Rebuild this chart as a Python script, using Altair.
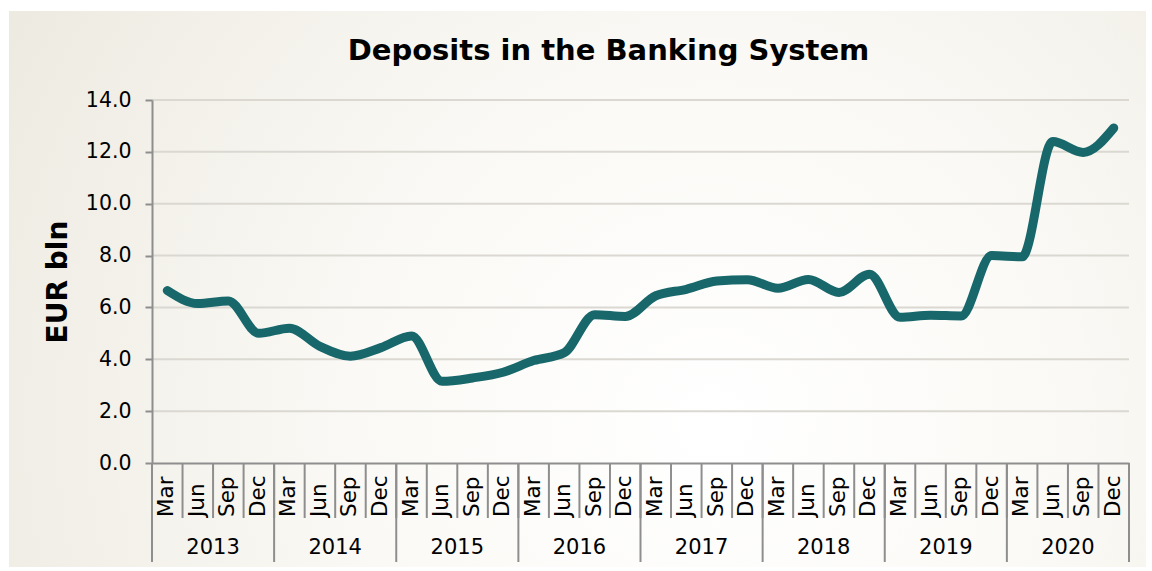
import altair as alt
import pandas as pd

# ---- data ----
months = ["Mar", "Jun", "Sep", "Dec"]
years = ["2013", "2014", "2015", "2016", "2017", "2018", "2019", "2020"]
deposits = [
    6.65, 6.15, 6.25, 5.00,
    5.20, 4.50, 4.12, 4.45,
    4.90, 3.15, 3.28, 3.50,
    3.95, 4.25, 5.72, 5.65,
    6.45, 6.70, 7.02, 7.07,
    6.74, 7.08, 6.58, 7.28,
    5.62, 5.70, 5.67, 8.00,
    7.95, 12.40, 11.98, 12.92,
]
y_ticks = [0, 2, 4, 6, 8, 10, 12, 14]

W, H = 977, 363
n = len(deposits)

series = pd.DataFrame({
    "pos": [i + 0.5 for i in range(n)],
    "month": [months[i % 4] for i in range(n)],
    "year": [years[i // 4] for i in range(n)],
    "value": deposits,
})
year_df = pd.DataFrame({"pos": [4 * k + 2 for k in range(len(years))], "year": years})
sep_df = pd.DataFrame({"pos": list(range(n + 1))})
ysep_df = pd.DataFrame({"pos": [4 * k for k in range(len(years) + 1)]})
grid_df = pd.DataFrame({"v": y_ticks})

FONT = "DejaVu Sans"
GRAY = "#8E8E8E"

xscale = alt.Scale(domain=[0, n], nice=False, zero=False)
yscale = alt.Scale(domain=[0, 14], nice=False)

x_axis = alt.Axis(labels=False, ticks=False, grid=False, title=None,
                  domainColor=GRAY, domainWidth=2, zindex=1)
y_axis = alt.Axis(values=y_ticks, format=".1f", grid=False, title="EUR bln",
                  labelFont=FONT, labelFontSize=20.5, labelColor="#000000",
                  labelPadding=14, tickSize=7, tickColor=GRAY, tickWidth=2,
                  domainColor=GRAY, domainWidth=2,
                  titleFont=FONT, titleFontSize=28, titleFontWeight="bold",
                  titleColor="#000000", titlePadding=13, zindex=1)

# background panel with radial gradient
bg = alt.Chart(pd.DataFrame({"a": [0]})).mark_rect(
    fill=alt.Gradient(
        gradient="radial",
        stops=[
            alt.GradientStop(color="#FFFFFF", offset=0),
            alt.GradientStop(color="#FAF9F5", offset=0.4),
            alt.GradientStop(color="#EAE7DC", offset=1),
        ],
        x1=0.62, y1=0.62, r1=0.0, x2=0.62, y2=0.62, r2=0.8,
    )
).encode(
    x=alt.value(-143), x2=alt.value(W + 17),
    y=alt.value(-89), y2=alt.value(H + 104),
)

line = alt.Chart(series).mark_line(
    color="#17676B", strokeWidth=9, interpolate="monotone", strokeCap="round", strokeJoin="round"
).encode(
    x=alt.X("pos:Q", scale=xscale, axis=x_axis),
    y=alt.Y("value:Q", scale=yscale, axis=y_axis),
)

grid = alt.Chart(grid_df).transform_filter("datum.v > 0").mark_rule(
    color="#DAD8D1", strokeWidth=2
).encode(
    y=alt.Y("v:Q", scale=yscale, axis=y_axis),
    x=alt.value(0), x2=alt.value(W),
)

seps = alt.Chart(sep_df).mark_rule(color=GRAY, strokeWidth=2).encode(
    x=alt.X("pos:Q", scale=xscale, axis=x_axis),
    y=alt.value(H), y2=alt.value(H + 55),
)
ysep = alt.Chart(ysep_df).mark_rule(color=GRAY, strokeWidth=2).encode(
    x=alt.X("pos:Q", scale=xscale, axis=x_axis),
    y=alt.value(H), y2=alt.value(H + 99),
)

mlabels = alt.Chart(series).mark_text(
    angle=270, align="left", baseline="middle", font=FONT, fontSize=21.5, color="#000000"
).encode(
    x=alt.X("pos:Q", scale=xscale, axis=x_axis),
    y=alt.value(H + 54),
    text="month:N",
)

ylabels = alt.Chart(year_df).mark_text(
    align="center", baseline="middle", font=FONT, fontSize=21, color="#000000"
).encode(
    x=alt.X("pos:Q", scale=xscale, axis=x_axis),
    y=alt.value(H + 85),
    text="year:N",
)

chart = alt.layer(bg, grid, line, seps, ysep, mlabels, ylabels).properties(
    width=W, height=H,
    autosize=alt.AutoSizeParams(type="none"),
    padding={"left": 152, "top": 100, "right": 23, "bottom": 108},
    background="#FFFFFF",
    title=alt.TitleParams(
        "Deposits in the Banking System", font=FONT, fontSize=29, fontWeight="bold",
        color="#000000", anchor="middle", baseline="alphabetic",
        dx=-32, offset=-78, zindex=1,
    ),
).configure_view(stroke=None)

chart.save("out.html", embed_options={"renderer": "svg", "actions": False})
